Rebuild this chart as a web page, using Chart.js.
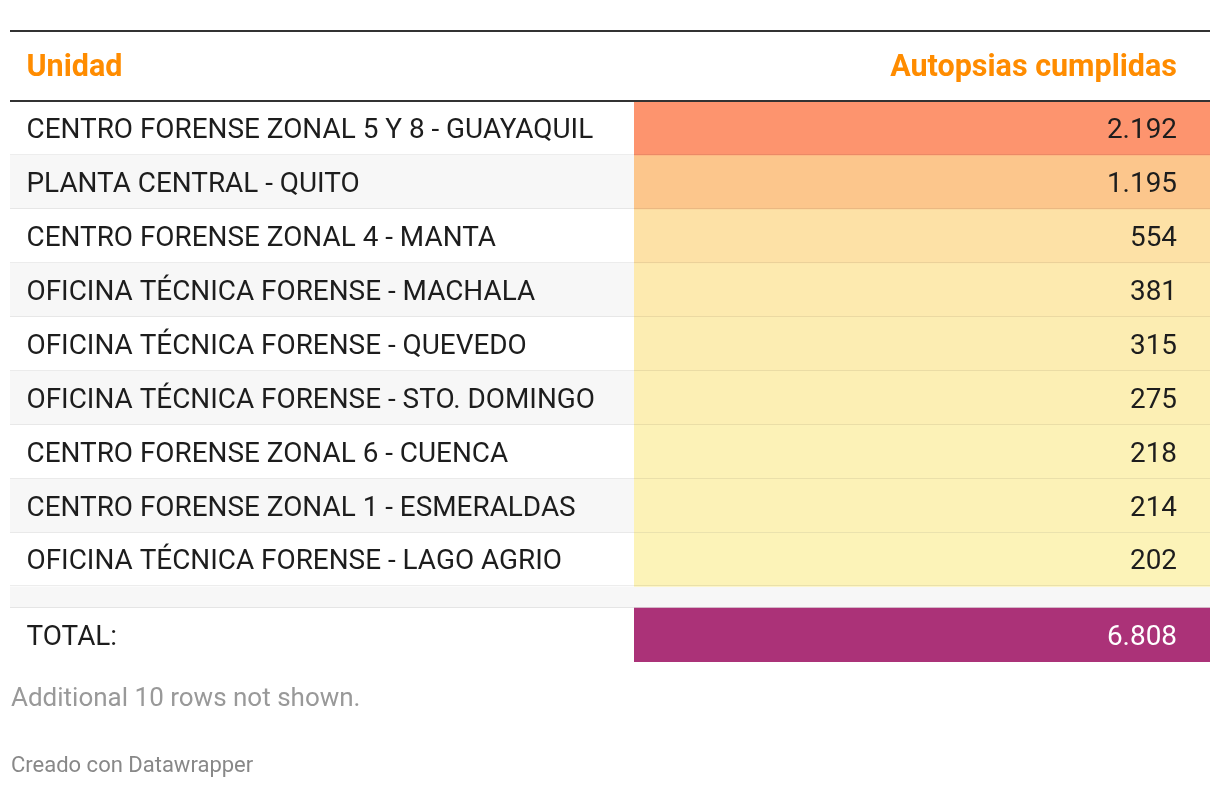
<!DOCTYPE html>
<html>
<head>
<meta charset="utf-8">
<script src="https://cdn.jsdelivr.net/npm/chart.js@4/dist/chart.umd.min.js"></script>
<style>
  html, body { margin: 0; padding: 0; background: #fff; }
  #wrap { width: 1220px; height: 788px; position: relative; }
  canvas { display: block; }
</style>
</head>
<body>
<div id="wrap"><canvas id="c" width="1220" height="788"></canvas></div>
<script>
// ---- data ----
const headers = ['Unidad', 'Autopsias cumplidas'];
const units = [
  'CENTRO FORENSE ZONAL 5 Y 8 - GUAYAQUIL',
  'PLANTA CENTRAL - QUITO',
  'CENTRO FORENSE ZONAL 4 - MANTA',
  'OFICINA TÉCNICA FORENSE - MACHALA',
  'OFICINA TÉCNICA FORENSE - QUEVEDO',
  'OFICINA TÉCNICA FORENSE - STO. DOMINGO',
  'CENTRO FORENSE ZONAL 6 - CUENCA',
  'CENTRO FORENSE ZONAL 1 - ESMERALDAS',
  'OFICINA TÉCNICA FORENSE - LAGO AGRIO'
];
const autopsias = [2192, 1195, 554, 381, 315, 275, 218, 214, 202];
const totalLabel = 'TOTAL:';
const totalValue = 6808;
const noteText = 'Additional 10 rows not shown.';
const creditText = 'Creado con Datawrapper';

// ---- styles ----
const gradientStops = [
  [202,  [252, 243, 184]],
  [554,  [253, 225, 166]],
  [1195, [252, 198, 140]],
  [2192, [253, 148, 110]]
];
const totalColor = '#ab3278';
const headColor = '#ff8c00';
const FONT = 'Roboto, "Liberation Sans", sans-serif';
const SPACER = 0.4; // empty row height in row units

function colorFor(v) {
  let a = gradientStops[0], b = gradientStops[gradientStops.length - 1];
  for (let k = 0; k < gradientStops.length - 1; k++) {
    if (v >= gradientStops[k][0] && v <= gradientStops[k + 1][0]) { a = gradientStops[k]; b = gradientStops[k + 1]; break; }
  }
  const t = b[0] === a[0] ? 0 : (v - a[0]) / (b[0] - a[0]);
  const c = a[1].map((x, j) => Math.round(x + (b[1][j] - x) * t));
  return 'rgb(' + c.join(',') + ')';
}
function fmt(n) { return String(n).replace(/\B(?=(\d{3})+(?!\d))/g, '.'); }

const n = units.length;
const totalTop = n + SPACER;
const totalBottom = totalTop + 1;

const datasets = units.map((u, i) => ({
  label: u,
  data: [[i, i + 1]],
  backgroundColor: colorFor(autopsias[i]),
  borderWidth: 0,
  grouped: false,
  barPercentage: 1,
  categoryPercentage: 1
}));
datasets.push({
  label: totalLabel,
  data: [[totalTop, totalBottom]],
  backgroundColor: totalColor,
  borderWidth: 0,
  grouped: false,
  barPercentage: 1,
  categoryPercentage: 1
});

const TABLE_L = 10, TABLE_R = 1210;

const tablePlugin = {
  id: 'tablePlugin',
  beforeDatasetsDraw(chart) {
    const ctx = chart.ctx, y = chart.scales.y, area = chart.chartArea;
    ctx.save();
    for (let i = 0; i < n; i++) {
      if (i % 2 === 1) {
        const t = y.getPixelForValue(i), b = y.getPixelForValue(i + 1);
        ctx.fillStyle = '#f7f7f7';
        ctx.fillRect(TABLE_L, t, area.left - TABLE_L, b - t);
      }
    }
    const st = y.getPixelForValue(n), sb = y.getPixelForValue(totalTop);
    ctx.fillStyle = '#f7f7f7';
    ctx.fillRect(TABLE_L, st, TABLE_R - TABLE_L, sb - st);
    ctx.restore();
  },
  afterDatasetsDraw(chart) {
    const ctx = chart.ctx, y = chart.scales.y, area = chart.chartArea;
    ctx.save();
    ctx.fillStyle = 'rgba(0,0,0,0.07)';
    for (let i = 1; i <= n + 1; i++) {
      const v = i <= n ? i : totalTop;
      const p = Math.round(y.getPixelForValue(v));
      ctx.fillRect(TABLE_L, p - 1, TABLE_R - TABLE_L, 1);
    }
    ctx.fillStyle = '#333';
    ctx.fillRect(TABLE_L, 30, TABLE_R - TABLE_L, 2);
    ctx.fillRect(TABLE_L, area.top - 1, TABLE_R - TABLE_L, 2);

    const textL = 26.5, textR = 1177;
    ctx.font = 'bold 30.5px ' + FONT;
    ctx.fillStyle = headColor;
    ctx.textBaseline = 'alphabetic';
    ctx.textAlign = 'left';
    ctx.fillText(headers[0], textL, 76);
    ctx.textAlign = 'right';
    ctx.fillText(headers[1], textR, 76);

    ctx.font = '27.9px ' + FONT;
    ctx.textBaseline = 'middle';
    for (let i = 0; i < n; i++) {
      const cy = y.getPixelForValue(i + 0.5) + 3;
      ctx.fillStyle = '#1d1d1d';
      ctx.textAlign = 'left';
      ctx.fillText(units[i], textL, cy);
      ctx.textAlign = 'right';
      ctx.fillText(fmt(autopsias[i]), textR, cy);
    }
    const ty = y.getPixelForValue(totalTop + 0.5) + 3;
    ctx.textAlign = 'left';
    ctx.fillStyle = '#1d1d1d';
    ctx.fillText(totalLabel, textL, ty);
    ctx.textAlign = 'right';
    ctx.fillStyle = '#ffffff';
    ctx.fillText(fmt(totalValue), textR, ty);

    ctx.textAlign = 'left';
    ctx.textBaseline = 'alphabetic';
    ctx.font = '26px ' + FONT;
    ctx.fillStyle = '#999999';
    ctx.fillText(noteText, 11, 706);
    ctx.font = '22px ' + FONT;
    ctx.fillStyle = '#888888';
    ctx.fillText(creditText, 11, 772);
    ctx.restore();
  }
};

new Chart(document.getElementById('c'), {
  type: 'bar',
  data: { labels: [headers[1]], datasets },
  options: {
    responsive: false,
    animation: false,
    events: [],
    layout: { padding: { left: 634, right: 10, top: 101, bottom: 126 } },
    scales: {
      x: { type: 'category', display: false, offset: true },
      y: { type: 'linear', display: false, reverse: true, min: 0, max: totalBottom }
    },
    plugins: { legend: { display: false }, tooltip: { enabled: false } }
  },
  plugins: [tablePlugin]
});
</script>
</body>
</html>
